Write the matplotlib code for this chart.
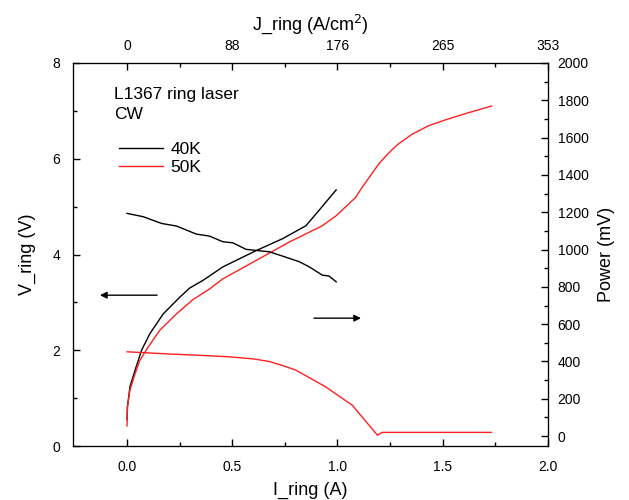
import numpy as np
import matplotlib.pyplot as plt

plt.rcParams['font.family'] = ['Liberation Sans', 'DejaVu Sans']

# V-I curves (left axis)
i_v40 = [0.0, 0.002, 0.014, 0.038, 0.069, 0.109, 0.172, 0.251, 0.298, 0.361,
         0.455, 0.613, 0.739, 0.85, 0.912, 0.994]
v_40 = [0.55, 0.82, 1.24, 1.58, 2.0, 2.35, 2.76, 3.11, 3.30, 3.46,
        3.74, 4.08, 4.33, 4.60, 4.92, 5.35]

i_v50 = [0.0, 0.002, 0.014, 0.038, 0.061, 0.101, 0.156, 0.235, 0.314, 0.392, 0.455,
         0.613, 0.771, 0.928, 0.994, 1.086, 1.117, 1.196, 1.235, 1.26, 1.29, 1.354,
         1.433, 1.512, 1.606, 1.732]
v_50 = [0.42, 0.82, 1.17, 1.51, 1.79, 2.07, 2.42, 2.76, 3.06, 3.28, 3.49,
        3.875, 4.26, 4.60, 4.81, 5.19, 5.40, 5.89, 6.08, 6.19, 6.31, 6.51,
        6.69, 6.81, 6.94, 7.10]

# power curves (right axis, mV)
i_p40 = [0.0, 0.077, 0.164, 0.235, 0.329, 0.392, 0.455, 0.503, 0.566, 0.676,
         0.739, 0.818, 0.865, 0.928, 0.96, 0.994]
p_40 = [1194, 1176, 1140, 1126, 1083, 1072, 1042, 1036, 1001, 988,
        965, 935, 908, 863, 858, 827]

i_p50 = [0.0, 0.203, 0.329, 0.487, 0.6, 0.676, 0.74, 0.802, 0.944, 1.07,
         1.19, 1.213, 1.732]
p_50 = [452, 440, 434, 425, 414, 400, 378, 354, 264, 166,
        5, 20, 20]

# top axis labels
j_ticks = [0, 88, 176, 265, 353]
i_ticks = [0.0, 0.5, 1.0, 1.5, 2.0]

fig = plt.figure(figsize=(6.29, 5.0), dpi=100)
ax = fig.add_axes([0.116, 0.108, 0.755, 0.766])
ax2 = ax.twinx()
ax3 = ax.twiny()

ax.plot(i_v40, v_40, color='black', lw=1, label='40K')
ax.plot(i_v50, v_50, color='#ff2020', lw=1, label='50K')
ax2.plot(i_p40, p_40, color='black', lw=1)
ax2.plot(i_p50, p_50, color='#ff2020', lw=1)

ax.set_xlim(-0.257, 2.0)
ax.set_ylim(0, 8)
ax2.set_ylim(-53, 2000)
ax3.set_xlim(ax.get_xlim())

ax.set_xticks(i_ticks)
ax.set_xticks(np.arange(0.25, 2.0, 0.5), minor=True)
ax.set_yticks([0, 2, 4, 6, 8])
ax.set_yticks([1, 3, 5, 7], minor=True)
ax2.set_yticks(np.arange(0, 2001, 200))
ax2.set_yticks(np.arange(100, 2000, 200), minor=True)
ax3.set_xticks(i_ticks)
ax3.set_xticklabels([str(j) for j in j_ticks])
ax3.set_xticks(np.arange(0.25, 2.0, 0.5), minor=True)

for a in (ax, ax2, ax3):
    a.tick_params(which='major', direction='in', length=5, labelsize=10, width=1)
    a.tick_params(which='minor', direction='in', length=3, width=1)
ax.tick_params(axis='x', pad=10)
ax.tick_params(axis='y', pad=9)
ax2.tick_params(axis='y', pad=7)
ax3.tick_params(axis='x', pad=7)

ax.set_xlabel('I_ring (A)', fontsize=13, labelpad=6)
ax.set_ylabel('V_ring (V)', fontsize=13, labelpad=12)
ax2.set_ylabel('Power (mV)', fontsize=13, labelpad=7)
ax3.set_xlabel('J_ring (A/cm$^2$)', fontsize=13, labelpad=7)

ax.text(-0.06, 7.35, 'L1367 ring laser', fontsize=12.5, va='center')
ax.text(-0.06, 6.92, 'CW', fontsize=12.5, va='center')
ax.legend(loc='upper left', bbox_to_anchor=(0.065, 0.835), frameon=False,
          fontsize=12.5, handlelength=2.5, handletextpad=0.45, labelspacing=0.15)

# arrows pointing to the axes
ax.annotate('', xy=(-0.142, 3.15), xytext=(0.156, 3.15),
            arrowprops=dict(arrowstyle='-|>', color='black', lw=1, mutation_scale=10))
ax.annotate('', xy=(1.125, 2.67), xytext=(0.875, 2.67),
            arrowprops=dict(arrowstyle='-|>', color='black', lw=1, mutation_scale=10))

fig.savefig('out.png', dpi=100)
